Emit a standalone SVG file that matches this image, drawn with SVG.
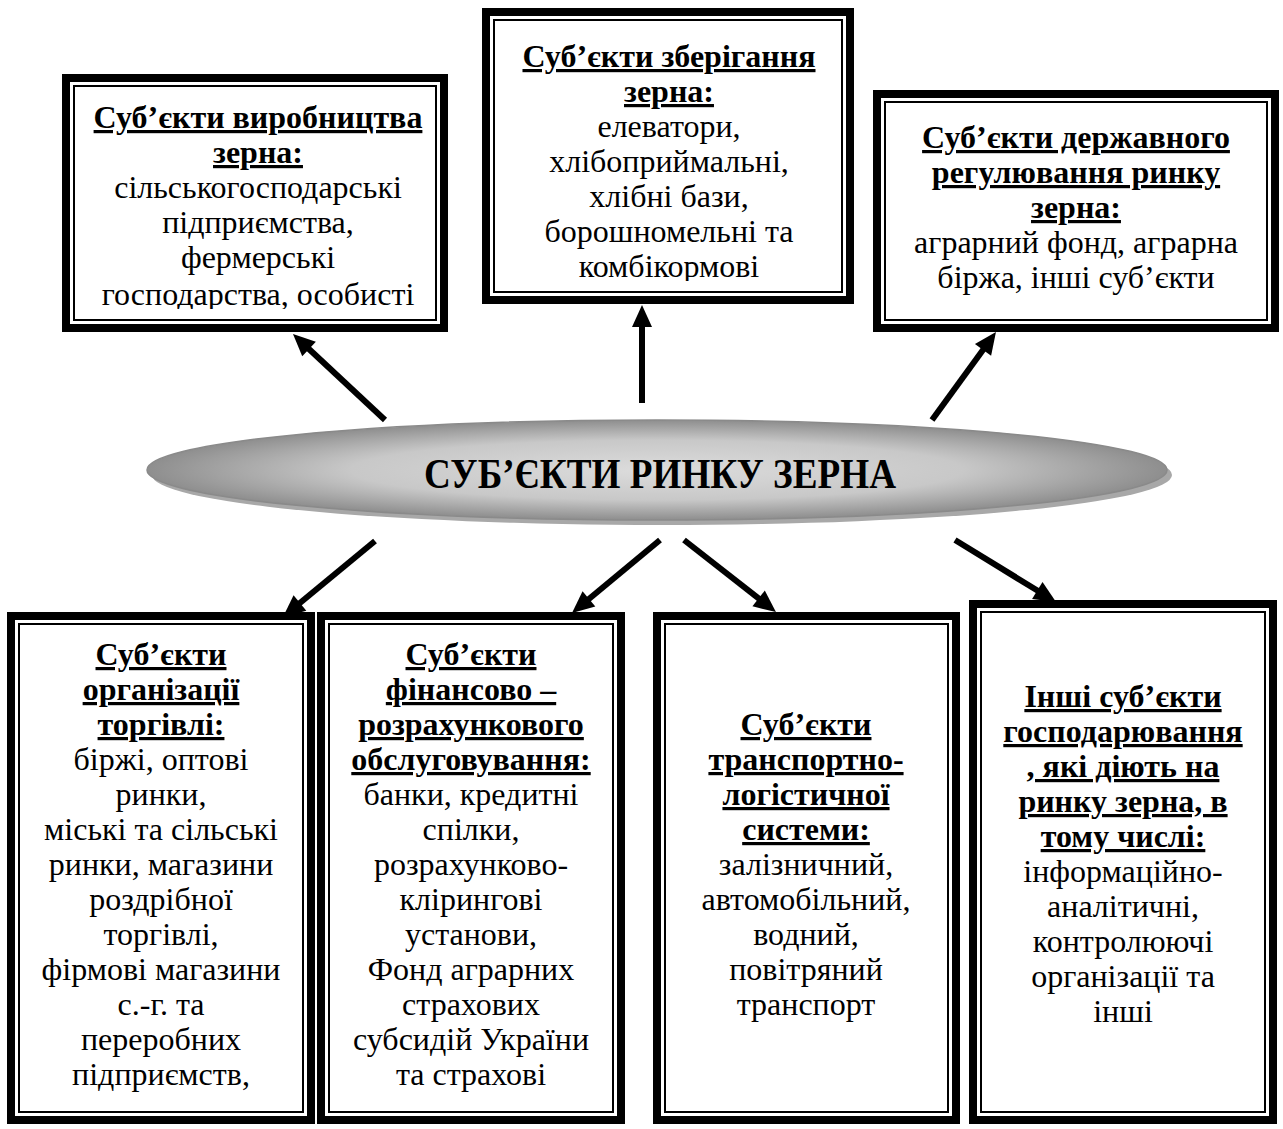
<svg xmlns="http://www.w3.org/2000/svg" width="1283" height="1129" viewBox="0 0 1283 1129">
<style>
.outer{fill:#fff;stroke:#000;stroke-width:8}
.inner{fill:none;stroke:#000;stroke-width:2}
text{font-family:"Liberation Serif","Times New Roman",serif;font-size:32px;fill:#000;text-anchor:middle}
.h{font-weight:bold;text-decoration:underline;text-decoration-thickness:3px}
.conn{stroke:#000;stroke-width:6;fill:none;marker-end:url(#ah)}
.title{font-size:42px;font-weight:bold}
</style>
<defs>
<marker id="ah" markerUnits="userSpaceOnUse" markerWidth="26" markerHeight="24" refX="2" refY="0" orient="auto" overflow="visible">
<path d="M0,-10 L22,0 L0,10 z" fill="#000"/>
</marker>
<radialGradient id="eg" cx="50%" cy="50%" r="50%">
<stop offset="0" stop-color="#dcdcdc"/>
<stop offset="0.6" stop-color="#c8c8c8"/>
<stop offset="1" stop-color="#8e8e8e"/>
</radialGradient>
<clipPath id="c1"><rect x="70" y="80" width="370" height="229"/></clipPath>
<clipPath id="c2"><rect x="490" y="14" width="356" height="267"/></clipPath>
</defs>

<g id="connectors">
<line class="conn" x1="385" y1="420" x2="307.6" y2="347.7"/>
<line class="conn" x1="642" y1="403" x2="642" y2="325"/>
<line class="conn" x1="932" y1="420" x2="984.2" y2="348.2"/>
<line class="conn" x1="375" y1="541" x2="298.4" y2="604.3"/>
<line class="conn" x1="660" y1="540" x2="587.4" y2="600.2"/>
<line class="conn" x1="684" y1="540" x2="760.2" y2="599.7"/>
<line class="conn" x1="955" y1="540" x2="1039" y2="591.5"/>
</g>

<g id="center">
<ellipse cx="662" cy="475" rx="510" ry="50" fill="#a8a8a8"/>
<ellipse cx="657" cy="470" rx="510" ry="50" fill="url(#eg)" stroke="#8a8a8a" stroke-width="1.5"/>
<text class="title" x="660" y="488" textLength="472" lengthAdjust="spacingAndGlyphs">СУБ’ЄКТИ РИНКУ ЗЕРНА</text>
</g>

<g id="box-production">
<rect class="outer" x="66" y="78" width="378" height="250"/>
<rect class="inner" x="74" y="86" width="362" height="234"/>
<g clip-path="url(#c1)">
<text class="h" x="258" y="128">Суб’єкти виробництва</text>
<text class="h" x="258" y="163">зерна:</text>
<text x="258" y="198">сільськогосподарські</text>
<text x="258" y="233">підприємства,</text>
<text x="258" y="268">фермерські</text>
<text x="258" y="305">господарства, особисті</text>
</g>
</g>

<g id="box-storage">
<rect class="outer" x="486" y="12" width="364" height="288"/>
<rect class="inner" x="494" y="20" width="348" height="272"/>
<g clip-path="url(#c2)">
<text class="h" x="669" y="67">Суб’єкти зберігання</text>
<text class="h" x="669" y="102">зерна:</text>
<text x="669" y="137">елеватори,</text>
<text x="669" y="172">хлібоприймальні,</text>
<text x="669" y="207">хлібні бази,</text>
<text x="669" y="242">борошномельні та</text>
<text x="669" y="277">комбікормові</text>
</g>
</g>

<g id="box-regulation">
<rect class="outer" x="877" y="94" width="398" height="234"/>
<rect class="inner" x="885" y="102" width="382" height="218"/>
<text class="h" x="1076" y="148">Суб’єкти державного</text>
<text class="h" x="1076" y="183">регулювання ринку</text>
<text class="h" x="1076" y="218">зерна:</text>
<text x="1076" y="253">аграрний фонд, аграрна</text>
<text x="1076" y="288">біржа, інші суб’єкти</text>
</g>

<g id="box-trade">
<rect class="outer" x="11" y="616" width="300" height="504"/>
<rect class="inner" x="19" y="624" width="284" height="488"/>
<text class="h" x="161" y="665">Суб’єкти</text>
<text class="h" x="161" y="700">організації</text>
<text class="h" x="161" y="735">торгівлі:</text>
<text x="161" y="770">біржі, оптові</text>
<text x="161" y="805">ринки,</text>
<text x="161" y="840">міські та сільські</text>
<text x="161" y="875">ринки, магазини</text>
<text x="161" y="910">роздрібної</text>
<text x="161" y="945">торгівлі,</text>
<text x="161" y="980">фірмові магазини</text>
<text x="161" y="1015">с.-г. та</text>
<text x="161" y="1050">переробних</text>
<text x="161" y="1085">підприємств,</text>
</g>

<g id="box-finance">
<rect class="outer" x="321" y="616" width="300" height="504"/>
<rect class="inner" x="329" y="624" width="284" height="488"/>
<text class="h" x="471" y="665">Суб’єкти</text>
<text class="h" x="471" y="700">фінансово –</text>
<text class="h" x="471" y="735">розрахункового</text>
<text class="h" x="471" y="770">обслуговування:</text>
<text x="471" y="805">банки, кредитні</text>
<text x="471" y="840">спілки,</text>
<text x="471" y="875">розрахунково-</text>
<text x="471" y="910">клірингові</text>
<text x="471" y="945">установи,</text>
<text x="471" y="980">Фонд аграрних</text>
<text x="471" y="1015">страхових</text>
<text x="471" y="1050">субсидій України</text>
<text x="471" y="1085">та страхові</text>
</g>

<g id="box-transport">
<rect class="outer" x="657" y="616" width="299" height="504"/>
<rect class="inner" x="665" y="624" width="283" height="488"/>
<text class="h" x="806" y="735">Суб’єкти</text>
<text class="h" x="806" y="770">транспортно-</text>
<text class="h" x="806" y="805">логістичної</text>
<text class="h" x="806" y="840">системи:</text>
<text x="806" y="875">залізничний,</text>
<text x="806" y="910">автомобільний,</text>
<text x="806" y="945">водний,</text>
<text x="806" y="980">повітряний</text>
<text x="806" y="1015">транспорт</text>
</g>

<g id="box-other">
<rect class="outer" x="973" y="604" width="300" height="516"/>
<rect class="inner" x="981" y="612" width="284" height="500"/>
<text class="h" x="1123" y="707">Інші суб’єкти</text>
<text class="h" x="1123" y="742">господарювання</text>
<text class="h" x="1123" y="777">, які діють на</text>
<text class="h" x="1123" y="812">ринку зерна, в</text>
<text class="h" x="1123" y="847">тому числі:</text>
<text x="1123" y="882">інформаційно-</text>
<text x="1123" y="917">аналітичні,</text>
<text x="1123" y="952">контролюючі</text>
<text x="1123" y="987">організації та</text>
<text x="1123" y="1022">інші</text>
</g>
</svg>
